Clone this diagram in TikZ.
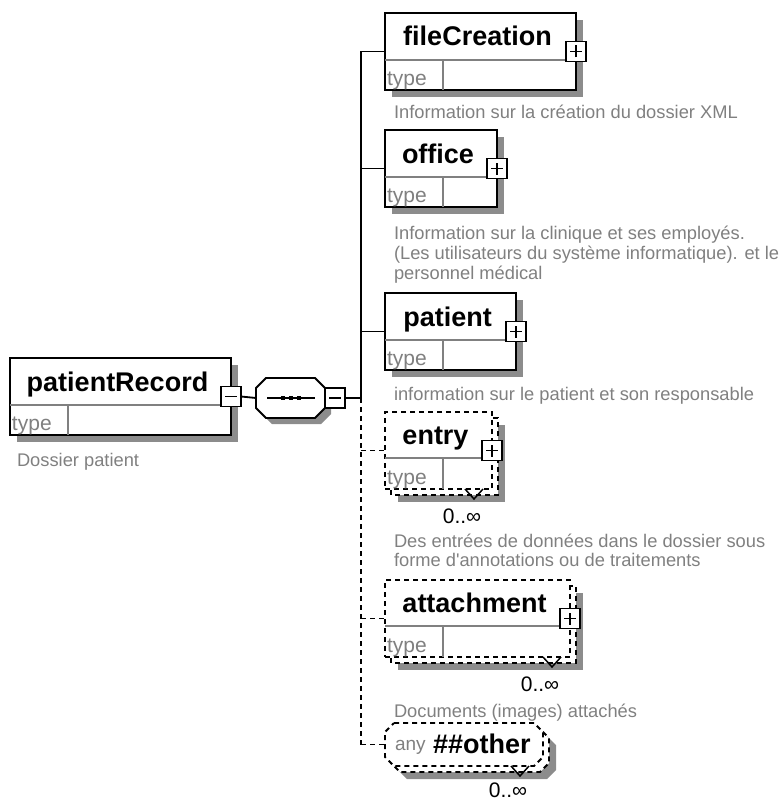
\documentclass[tikz,border=0pt]{standalone}
\usepackage{fontspec}
\newfontfamily\diagfont{Liberation Sans}
\usetikzlibrary{calc}

\definecolor{desccol}{RGB}{128,128,128}
\definecolor{divcol}{RGB}{128,128,128}
\definecolor{shadecol}{RGB}{140,140,140}

\tikzset{
  every node/.style={inner sep=0pt, outer sep=0pt},
  boxline/.style={draw=black, line width=1.8pt, fill=white},
  dashline/.style={dash pattern=on 5pt off 4pt},
  solidbox/.style={boxline, rectangle},
  optbox/.style={boxline, dashline, rectangle},
  shadowfill/.style={fill=shadecol, draw=none},
  shadowbox/.style={rectangle, fill=shadecol, draw=none, minimum height=77pt, anchor=north west},
  divline/.style={draw=divcol, line width=1.4pt},
  conn/.style={draw=black, line width=1.8pt},
  optconn/.style={conn, dashline},
  titletext/.style={anchor=base, font=\diagfont\fontsize{27}{32}\selectfont\bfseries},
  typetext/.style={anchor=base west, text=desccol, font=\diagfont\fontsize{21}{24}\selectfont},
  desc/.style={anchor=base west, text=desccol, font=\diagfont\fontsize{18.3}{20}\selectfont},
  occur/.style={anchor=base, font=\diagfont\fontsize{21}{24}\selectfont},
  pmbox/.style={draw=black, fill=white, line width=1.5pt, minimum size=20pt},
  plusmark/.style={pmbox, path picture={
      \draw[line width=1.5pt]
        ([xshift=-6pt]path picture bounding box.center) -- ([xshift=6pt]path picture bounding box.center)
        ([yshift=-6pt]path picture bounding box.center) -- ([yshift=6pt]path picture bounding box.center);}},
  minusmark/.style={pmbox, path picture={
      \draw[line width=1.5pt]
        ([xshift=-6pt]path picture bounding box.center) -- ([xshift=6pt]path picture bounding box.center);}},
}

% octagon outline: style, left, top, right, bottom, chamfer
\newcommand\octshape[6]{%
  \path[#1] ({#2+#6},{#3}) -- ({#4-#6},{#3}) -- ({#4},{#3+#6}) -- ({#4},{#5-#6})
    -- ({#4-#6},{#5}) -- ({#2+#6},{#5}) -- ({#2},{#5-#6}) -- ({#2},{#3+#6}) -- cycle;}

% mandatory element box: name, left, top, right, title, marker style
\newcommand\solidelem[6]{%
  \node[shadowbox, minimum width={#4-#2}] (#1-shadow) at ({#2+7},{#3+7}) {};
  \node[solidbox, minimum width={#4-#2}, minimum height=77pt, anchor=north west] (#1) at (#2,#3) {};
  \draw[divline] ({#2},{#3+47}) -- ({#4},{#3+47}) ({#2+58},{#3+47}) -- ({#2+58},{#3+77});
  \node[titletext] (#1-title) at ({(#2+#4)/2-3},{#3+33}) {#5};
  \node[typetext] (#1-type) at ({#2+2},{#3+72}) {type};
  \node[#6] (#1-mark) at (#1.east) {};
}

% optional, repeatable element box: name, left, top, right, title
\newcommand\optelem[5]{%
  \node[shadowbox, minimum width={#4-#2}] (#1-shadow) at ({#2+13},{#3+13}) {};
  \path[boxline, dashline] ({#2+6},{#3+6}) rectangle ({#4+6},{#3+83});
  \node[optbox, minimum width={#4-#2}, minimum height=77pt, anchor=north west] (#1) at (#2,#3) {};
  \draw[divline] ({#2},{#3+46}) -- ({#4},{#3+46}) ({#2+58},{#3+46}) -- ({#2+58},{#3+77});
  \node[titletext] (#1-title) at ({(#2+#4)/2-3},{#3+32}) {#5};
  \node[typetext] (#1-type) at ({#2+2},{#3+72}) {type};
  \node[plusmark] (#1-mark) at (#1.east) {};
  \draw[line width=1.5pt] ({#4-27},{#3+77}) -- ({#4-18},{#3+87}) -- ({#4-9},{#3+77});
  \node[occur] (#1-occ) at ({#4-30},{#3+111}) {0..∞};
}

\begin{document}
\begin{tikzpicture}[x=1pt, y=-1pt]
\useasboundingbox (0,0) rectangle (783,800);

% root element
\solidelem{root}{10}{358}{231}{patientRecord}{minusmark}
\node[desc] (root-desc) at (17,466) {Dossier patient};

% sequence compositor
\node[minimum width=69pt, minimum height=40pt] (seq) at (290.5,398) {};
\octshape{shadowfill}{262}{384}{331}{424}{10}
\octshape{boxline}{256}{378}{325}{418}{10}
\draw[line width=1.6pt] (267,398) -- (315,398);
\foreach \sx in {283,291,299}{\fill (\sx-2.4,395.6) rectangle (\sx+2.4,400.4);}
\node[minusmark, anchor=west] (seq-mark) at (seq.east) {};
\draw[conn] (root-mark.east) -- (seq.west);
\coordinate (trunk) at (361,398);
\draw[conn] (seq-mark.east) -- (trunk);

% child elements
\solidelem{fc}{385}{13}{576}{fileCreation}{plusmark}
\node[desc] (fc-desc) at (394,118) {Information sur la création du dossier XML};

\solidelem{office}{385}{130}{497}{office}{plusmark}
\node[desc] (office-desc1) at (394,239) {Information sur la clinique et ses employés.};
\node[desc] (office-desc2) at (394,259) {(Les utilisateurs du système informatique). et le};
\node[desc] (office-desc3) at (394,279) {personnel médical};

\solidelem{pat}{385}{293}{516}{patient}{plusmark}
\node[desc] (pat-desc) at (394,400) {information sur le patient et son responsable};

\optelem{entry}{385}{412}{492}{entry}
\node[desc] (entry-desc1) at (394,547) {Des entrées de données dans le dossier sous};
\node[desc] (entry-desc2) at (394,566) {forme d'annotations ou de traitements};

\optelem{att}{385}{580}{570}{attachment}
\node[desc] (att-desc) at (394,717) {Documents (images) attachés};

% any ##other wildcard
\node[minimum width=158pt, minimum height=43pt] (oth) at (464,744.5) {};
\octshape{shadowfill}{398}{736}{556}{779}{9}
\octshape{boxline,dashline}{391}{729}{549}{772}{9}
\octshape{boxline,dashline}{385}{723}{543}{766}{9}
\node[anchor=base west, text=desccol, font=\diagfont\fontsize{19}{22}\selectfont] (oth-any) at (395,750) {any};
\node[anchor=base west, font=\diagfont\fontsize{27}{32}\selectfont\bfseries] (oth-name) at (433,753) {\#\#other};
\draw[line width=1.5pt] (511,766) -- (520,776) -- (529,766);
\node[occur] (oth-occ) at (508,797) {0..∞};

% trunk and branches
\draw[conn] (fc.west -| trunk) -- (trunk);
\draw[optconn] (trunk) -- (oth.west -| trunk);
\draw[conn] (fc.west -| trunk) -- (fc.west);
\draw[conn] (office.west -| trunk) -- (office.west);
\draw[conn] (pat.west -| trunk) -- (pat.west);
\draw[optconn] (entry.west -| trunk) -- (entry.west);
\draw[optconn] (att.west -| trunk) -- (att.west);
\draw[optconn] (oth.west -| trunk) -- (oth.west);
\end{tikzpicture}
\end{document}
